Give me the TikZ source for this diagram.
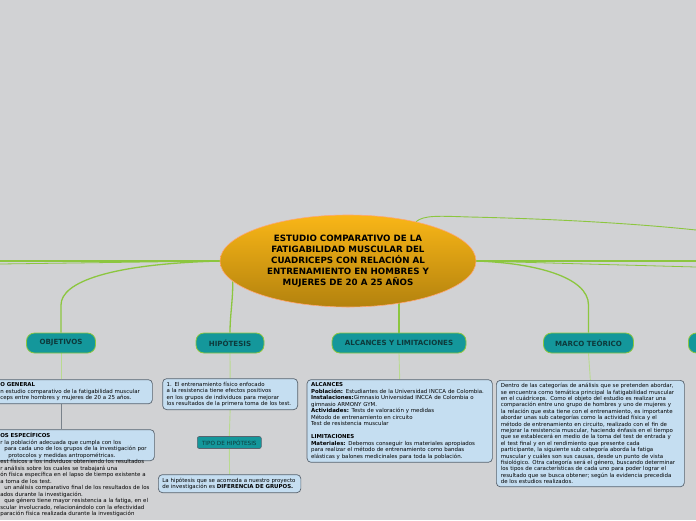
\documentclass[tikz,border=0pt]{standalone}
\usepackage{fontspec}
\setmainfont{DejaVu Sans}
\usetikzlibrary{positioning,shapes.geometric,backgrounds}
\definecolor{fondo}{HTML}{D1D2D4}
\definecolor{rama}{HTML}{8CC63F}
\definecolor{ramaclara}{HTML}{B9DA8F}
\definecolor{turquesa}{HTML}{14979B}
\definecolor{tinta}{HTML}{0D3A3C}
\definecolor{caja}{HTML}{C5DEF1}
\definecolor{borde}{HTML}{58636E}
\definecolor{oroalto}{HTML}{F9B617}
\definecolor{orobajo}{HTML}{B3820E}
\tikzset{
  mapa/.style={x=1pt,y=-1pt,
    rama/.style={draw=rama,line width=1.3pt},
    ramita/.style={draw=ramaclara,line width=0.9pt},
    gris/.style={draw=borde!80,line width=0.9pt},
    tema/.style={rounded corners=8pt,fill=turquesa,draw=rama,line width=0.8pt,
      minimum height=20pt,inner xsep=0pt,text=tinta,font=\fontsize{7.1}{8}\selectfont\bfseries},
    tipo/.style={rounded corners=2pt,fill=turquesa,draw=borde,line width=0.6pt,
      minimum height=12pt,minimum width=64pt,inner sep=0pt,text=tinta,font=\fontsize{5.7}{6}\selectfont},
    nota/.style={rounded corners=4pt,fill=caja,draw=borde,line width=0.7pt,align=left,
      anchor=north west,inner xsep=4pt,inner ysep=3pt,font=\fontsize{5.45}{6.5}\selectfont},
  },
}

\begin{document}
\begin{tikzpicture}[mapa]
  \useasboundingbox (0,0) rectangle (696,520);
  \clip (0,0) rectangle (696,520);
  \node[ellipse,minimum width=256pt,minimum height=92pt,inner sep=0pt,
    top color=oroalto,bottom color=orobajo,draw=orange!40!pink,line width=0.6pt,
    align=center,font=\fontsize{8.7}{11}\selectfont\bfseries] (c0) at (348,261)
    {ESTUDIO COMPARATIVO DE LA\\FATIGABILIDAD MUSCULAR DEL\\CUADRICEPS CON RELACIÓN AL\\ENTRENAMIENTO EN HOMBRES Y\\MUJERES DE 20 A 25 AÑOS};

  \node[tema,minimum width=69pt] (o0) at (61,343) {OBJETIVOS};
  \node[tema,minimum width=68pt] (h0) at (230,343) {HIPÓTESIS};
  \node[tema,minimum width=134pt] (a0) at (399,343) {ALCANCES Y LIMITACIONES};
  \node[tema,minimum width=90pt] (m0) at (588.5,343) {MARCO TEÓRICO};
  \node[tema,minimum width=70pt,anchor=west] (x0) at (688,343) {};

  \node[nota,text width=148pt] (og) at (-4,379.3)
    {\textbf{O GENERAL}\\n estudio comparativo de la fatigabilidad muscular\\ceps entre hombres y mujeres de 20 a 25 años.};
  \node[nota,text width=150pt,text depth=20pt] (oe) at (-4,429.3)
    {\textbf{OS ESPECÍFICOS}\\r la población adecuada que cumpla con los\\
     \hspace*{4pt}para cada uno de los grupos de la investigación por\\
     \hspace*{8pt}protocolos y medidas antropométricas.\\
     est físicos a los individuos obteniendo los resultados\\
     r análisis sobre los cuales se trabajará una\\
     ón física específica en el lapso de tiempo existente a\\
     a toma de los test.\\
     \hspace*{4pt}un análisis comparativo final de los resultados de los\\
     ados durante la investigación.\\
     \hspace*{4pt}que género tiene mayor resistencia a la fatiga, en el\\
     scular involucrado, relacionándolo con la efectividad\\
     paración física realizada durante la investigación};

  \node[nota,text width=127pt] (h1) at (162.3,378.3)
    {1. El entrenamiento físico enfocado\\a la resistencia tiene efectos positivos\\en los grupos de individuos para mejorar\\los resultados de la primera toma de los test.};
  \node[tipo] (h2) at (229.3,442.5) {TIPO DE HIPÓTESIS};
  \node[nota,text width=134.5pt] (h3) at (158,474.3)
    {La hipótesis que se acomoda a nuestro proyecto\\de investigación es \textbf{DIFERENCIA DE GRUPOS.}};

  \node[nota,text width=177.3pt] (a1) at (306.7,379.3)
    {\textbf{ALCANCES}\\
     \textbf{Población:} Estudiantes de la Universidad INCCA de Colombia.\\
     \textbf{Instalaciones:}Gimnasio Universidad INCCA de Colombia o\\
     gimnasio ARMONY GYM.\\
     \textbf{Actividades:} Tests de valoración y medidas\\
     Método de entrenamiento en circuito\\
     Test de resistencia muscular\\[6.5pt]
     \textbf{LIMITACIONES}\\
     \textbf{Materiales:} Debemos conseguir los materiales apropiados\\
     para realizar el método de entrenamiento como bandas\\
     elásticas y balones medicinales para toda la población.};

  \node[nota,text width=179pt,inner xsep=4.5pt,font=\fontsize{5.45}{6.4}\selectfont] (m1) at (496,380)
    {Dentro de las categorías de análisis que se pretenden abordar,\\
     se encuentra como temática principal la fatigabilidad muscular\\
     en el cuádriceps. Como el objeto del estudio es realizar una\\
     comparación entre uno grupo de hombres y uno de mujeres y\\
     la relación que esta tiene con el entrenamiento, es importante\\
     abordar unas sub categorías como la actividad física y el\\
     método de entrenamiento en circuito, realizado con el fin de\\
     mejorar la resistencia muscular, haciendo énfasis en el tiempo\\
     que se establecerá en medio de la toma del test de entrada y\\
     el test final y en el rendimiento que presente cada\\
     participante, la siguiente sub categoría aborda la fatiga\\
     muscular y cuáles son sus causas, desde un punto de vista\\
     fisiológico. Otra categoría será el género, buscando determinar\\
     los tipos de características de cada uno para poder lograr el\\
     resultado que se busca obtener; según la evidencia precedida\\
     de los estudios realizados.};

  \coordinate (l1) at (0,261);
  \coordinate (l2) at (0,264);
  \coordinate (r1) at (696,261);
  \coordinate (r2) at (696,267);
  \coordinate (r3) at (696,230);

  \begin{scope}[on background layer]
    \fill[fondo] (0,0) rectangle (696,520);
    \draw[rama] (c0.west) -- (l1);
    \draw[rama,line width=0.8pt] (c0.west) -- (l2);
    \draw[rama] (c0.east) -- (r1);
    \draw[rama,line width=0.8pt] (c0.east) -- (r2);
    \draw[rama,line width=0.9pt] (c0.30) .. controls (424,215) and (438,216) .. (470,217)
      .. controls (560,219) and (640,224) .. (r3);
    \draw[rama] (c0.west) .. controls (110,264) and (61,282) .. (61,305) -- (o0.north);
    \draw[rama] (c0.190) .. controls (233,300) and (230,315) .. (h0.north);
    \draw[rama] (c0.center -| a0.north) -- (a0.north);
    \draw[rama] (c0.east) .. controls (535,263) and (m0.north |- 0,277) .. (588.5,305) -- (m0.north);
    \draw[ramita] (o0.south) -- (o0.south |- og.north);
    \draw[gris] (o0.south |- og.south) -- (o0.south |- oe.north);
    \draw[ramita] (h0.south) -- (h1.north);
    \draw[ramita] (h1.south) -- (h2.north);
    \draw[ramita] (h2.south) -- (h3.north);
    \draw[ramita] (a0.south) -- (a1.north);
    \draw[ramita] (m0.south) -- (m1.north);
  \end{scope}
\end{tikzpicture}
\end{document}
